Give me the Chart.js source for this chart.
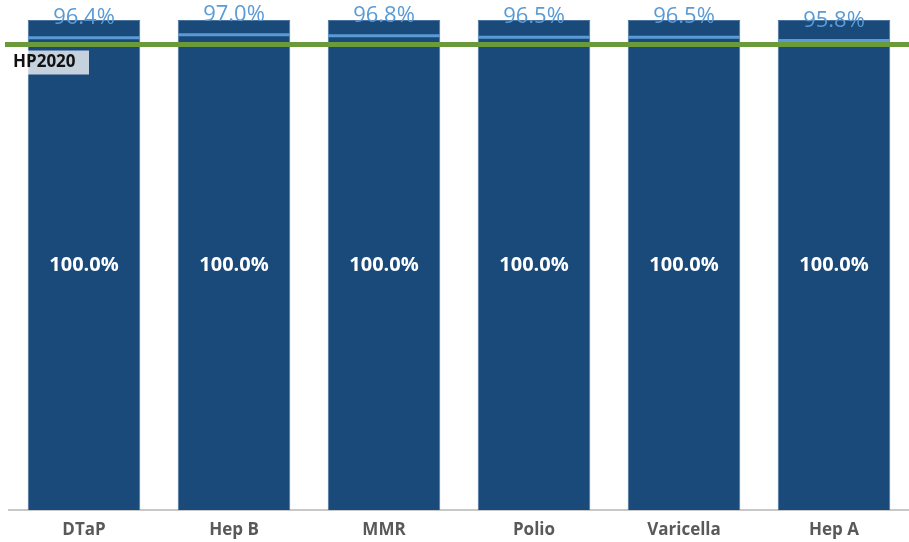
<!DOCTYPE html>
<html>
<head>
<meta charset="utf-8">
<script src="https://cdn.jsdelivr.net/npm/chart.js@4.4.1/dist/chart.umd.min.js"></script>
<style>
  html, body { margin: 0; padding: 0; background: #fff; }
  #wrap { width: 909px; height: 542px; }
</style>
</head>
<body>
<div id="wrap"><canvas id="chart"></canvas></div>
<script>
// datos del gráfico
const vaccines = ['DTaP', 'Hep B', 'MMR', 'Polio', 'Varicella', 'Hep A'];
const fullBars = [100, 100, 100, 100, 100, 100];
const coverage = [96.4, 97.0, 96.8, 96.5, 96.5, 95.8];
const targetValue = 95;
const targetLabel = 'HP2020';

// plugin: etiquetas y línea objetivo
const labelsPlugin = {
    id: 'labelsPlugin',
    afterDatasetsDraw(chart) {
        const ctx = chart.ctx;
        const y = chart.scales.y;

        // etiquetas blancas en el centro de las barras
        const barMeta = chart.getDatasetMeta(0);
        ctx.save();
        ctx.font = 'bold 20px "Open Sans", sans-serif';
        ctx.fillStyle = '#ffffff';
        ctx.textAlign = 'center';
        ctx.textBaseline = 'middle';
        barMeta.data.forEach((bar, i) => {
            ctx.fillText(fullBars[i].toFixed(1) + '%', bar.x, (bar.y + bar.base) / 2);
        });

        // línea HP2020
        const ty = y.getPixelForValue(targetValue);
        ctx.strokeStyle = '#6a9a3a';
        ctx.lineWidth = 5;
        ctx.beginPath();
        ctx.moveTo(5, ty);
        ctx.lineTo(chart.width, ty);
        ctx.stroke();

        // caja de HP2020 (blanco translúcido)
        ctx.fillStyle = 'rgba(255, 255, 255, 0.75)';
        ctx.fillRect(12, ty + 6, 77, 24);
        ctx.fillStyle = '#111111';
        ctx.font = 'bold 17px "Open Sans", sans-serif';
        ctx.textAlign = 'left';
        ctx.fillText(targetLabel, 13, ty + 18);

        // etiquetas de cobertura
        const lineMeta = chart.getDatasetMeta(1);
        ctx.font = '22px "Open Sans", sans-serif';
        ctx.fillStyle = '#5b9bd5';
        ctx.textAlign = 'center';
        lineMeta.data.forEach((pt, i) => {
            ctx.fillText(coverage[i].toFixed(1) + '%', pt.x, pt.y - 20);
        });
        ctx.restore();
    }
};

new Chart(document.getElementById('chart'), {
    data: {
        labels: vaccines,
        datasets: [
            {
                type: 'bar',
                data: fullBars,
                backgroundColor: '#1a4a7a',
                borderColor: '#4a73a0',
                borderWidth: 1,
                categoryPercentage: 1,
                barPercentage: 0.75,
                order: 2
            },
            {
                type: 'line',
                data: coverage,
                showLine: false,
                pointStyle: 'line',
                pointRadius: 56,
                pointHoverRadius: 56,
                pointBorderWidth: 3,
                borderColor: '#5b9bd5',
                clip: false,
                order: 1
            }
        ]
    },
    options: {
        responsive: true,
        maintainAspectRatio: false,
        animation: false,
        layout: { autoPadding: false, padding: { top: 20, left: 9, right: 0, bottom: 0 } },
        plugins: {
            legend: { display: false },
            tooltip: { enabled: false }
        },
        scales: {
            y: { display: false, min: 0, max: 100 },
            x: {
                grid: { display: false, drawTicks: false },
                border: { color: '#c8c8c8', width: 2 },
                afterFit(scale) { scale.height = 32; },
                ticks: {
                    color: '#595959',
                    padding: 10,
                    font: { family: '"Open Sans", sans-serif', size: 17, weight: 'bold' }
                }
            }
        }
    },
    plugins: [labelsPlugin]
});
</script>
</body>
</html>
